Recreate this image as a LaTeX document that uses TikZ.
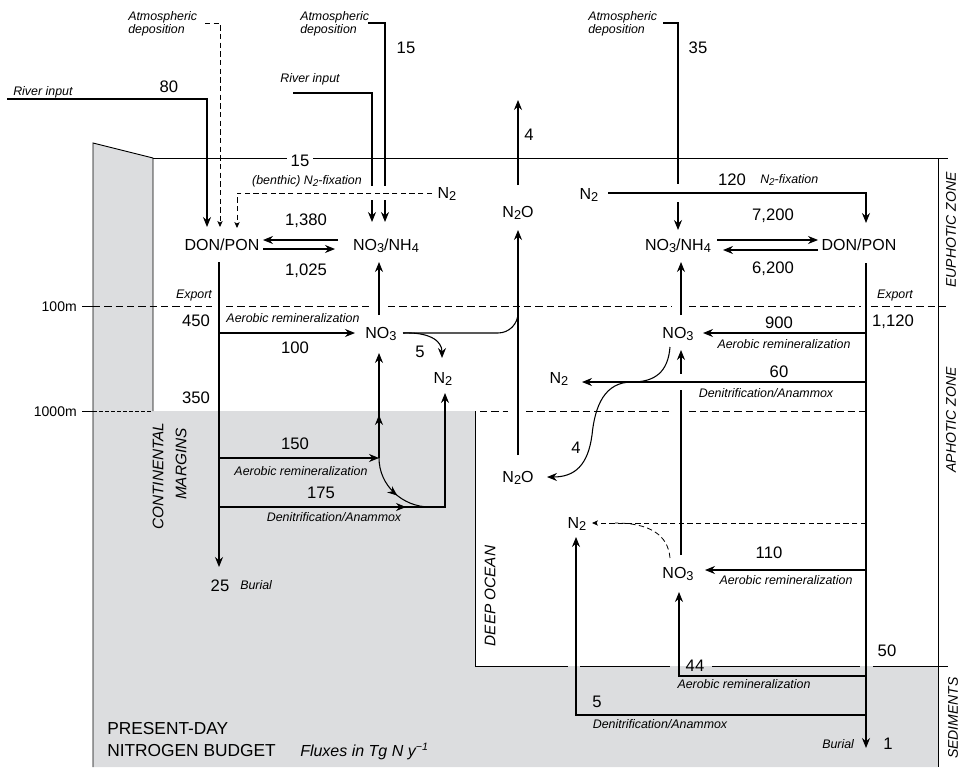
\documentclass[tikz,border=0pt]{standalone}
\usepackage{fontspec}
\setmainfont{Liberation Sans}
\usetikzlibrary{arrows.meta,decorations.markings}
\definecolor{sedgray}{RGB}{220,221,223}
\newcommand{\lsub}[1]{\raisebox{-0.32ex}{\scalebox{0.8}{#1}}}
\pgfdeclarelayer{back}
\pgfdeclarelayer{bg}
\pgfsetlayers{back,bg,main}
\begin{document}
\begin{tikzpicture}[x=0.75pt,y=-0.75pt,
  lnw/.style={line width=0.8pt},
  frm/.style={line width=0.7pt},
  arr/.style={line width=0.8pt,-{Stealth[length=7.5pt,width=6pt,inset=2.5pt]}},
  darr/.style={line width=0.6pt,dash pattern=on 4pt off 2.5pt,-{Stealth[length=4.5pt,width=4pt,inset=1.2pt]}},
  lev/.style={line width=0.6pt,dash pattern=on 5.5pt off 3pt},
  halo/.style={preaction={draw=white,line width=#1,solid,-}},
  spc/.style={font=\fontsize{12}{14}\selectfont,inner sep=0pt,anchor=base},
  num/.style={font=\fontsize{12.5}{14}\selectfont,inner sep=0pt,anchor=base},
  lab/.style={font=\fontsize{9.3}{11}\selectfont\itshape,inner sep=0pt,anchor=base},
  labw/.style={lab,anchor=base west},
  zonel/.style={font=\fontsize{10.5}{12}\selectfont\itshape,inner sep=0pt,rotate=90},
  regn/.style={font=\fontsize{11.5}{14}\selectfont\itshape,inner sep=0pt,rotate=90},
  lvl/.style={font=\fontsize{10.5}{12}\selectfont,inner sep=0pt,anchor=base east},
  ttl/.style={font=\fontsize{13}{15}\selectfont,inner sep=0pt,anchor=base west},
  midarr/.style={postaction={decorate},decoration={markings,mark=at position #1 with {\arrow{Stealth[length=7.5pt,width=6pt,inset=2.5pt]}}}}
]
\useasboundingbox (0,0) rectangle (963,767);

% ---------- species nodes ----------
\node[spc] (donL) at (222,250) {DON/PON};
\node[spc] (nhL)  at (386,250) {NO\lsub{3}/NH\lsub{4}};
\node[spc] (nhR)  at (678,250) {NO\lsub{3}/NH\lsub{4}};
\node[spc] (donR) at (859,250) {DON/PON};
\node[spc] (n2oU) at (518,217) {N\lsub{2}O};
\node[spc] (n2La) at (447,198) {N\lsub{2}};
\node[spc] (n2Ra) at (589,199) {N\lsub{2}};
\node[spc] (no3L) at (381,338) {NO\lsub{3}};
\node[spc] (n2Lb) at (443,383) {N\lsub{2}};
\node[spc] (no3R) at (678,338) {NO\lsub{3}};
\node[spc] (n2Rb) at (559,383) {N\lsub{2}};
\node[spc] (n2oD) at (518,482) {N\lsub{2}O};
\node[spc] (n2D)  at (577,528) {N\lsub{2}};
\node[spc] (no3D) at (678,578) {NO\lsub{3}};

% ---------- numbers ----------
\node[num] (v80) at (169,93) {80};
\node[num] (v15a) at (406,54) {15};
\node[num,fill=white,inner xsep=3pt,inner ysep=1pt] (v15b) at (300,166) {15};
\node[num] (v35) at (698,54) {35};
\node[num] (v4a) at (529,140) {4};
\node[num] (v120) at (732,185) {120};
\node[num] (v7200) at (773,220) {7,200};
\node[num] (v1380) at (306,225) {1,380};
\node[num] (v1025) at (306,275) {1,025};
\node[num] (v6200) at (773,273) {6,200};
\node[num] (v450) at (196,326) {450};
\node[num] (v100) at (295,353) {100};
\node[num] (v5a) at (420,357) {5};
\node[num] (v350) at (196,403) {350};
\node[num] (v150) at (295,449) {150};
\node[num] (v175) at (321,498) {175};
\node[num] (v900) at (779,328) {900};
\node[num] (v1120) at (893,326) {1,120};
\node[num] (v60) at (779,377) {60};
\node[num] (v4b) at (576,453) {4};
\node[num] (v110) at (769,558) {110};
\node[num] (v44) at (695,671) {44};
\node[num] (v5b) at (597,707) {5};
\node[num] (v50) at (887,656) {50};
\node[num] (v1) at (888,749) {1};
\node[num] (v25) at (220,591) {25};

% ---------- italic labels ----------
\node[labw] (tRivL) at (13,95) {River input};
\node[labw] (tAtmL1) at (128,21) {Atmospheric};
\node[labw] (tAtmL2) at (128,34) {deposition};
\node[labw] (tAtmM1) at (300,21) {Atmospheric};
\node[labw] (tAtmM2) at (300,34) {deposition};
\node[labw] (tAtmR1) at (588,21) {Atmospheric};
\node[labw] (tAtmR2) at (588,34) {deposition};
\node[lab] (tRivM) at (310,83) {River input};
\node[lab] (tBen) at (307,184) {(benthic) N\lsub{2}-fixation};
\node[labw] (tFixR) at (760,183) {N\lsub{2}-fixation};
\node[lab] (tExpL) at (194,298) {Export};
\node[lab] (tExpR) at (895,298) {Export};
\node[lab] (tAer1) at (293,322) {Aerobic remineralization};
\node[lab] (tAer2) at (301,475) {Aerobic remineralization};
\node[lab] (tDen1) at (334,521) {Denitrification/Anammox};
\node[labw] (tBurL) at (240,589) {Burial};
\node[lab] (tAer3) at (784,348) {Aerobic remineralization};
\node[lab] (tDen2) at (766,397) {Denitrification/Anammox};
\node[lab] (tAer4) at (786,584) {Aerobic remineralization};
\node[lab] (tAer5) at (744,688) {Aerobic remineralization};
\node[lab] (tDen3) at (660,728) {Denitrification/Anammox};
\node[labw] (tBurR) at (822,748) {Burial};

% ---------- zone / region labels ----------
\node[zonel] (zEu) at (951,230) {EUPHOTIC ZONE};
\node[zonel] (zAp) at (951,420) {APHOTIC ZONE};
\node[zonel] (zSe) at (953,718) {SEDIMENTS};
\node[regn] (rCM1) at (158,476) {CONTINENTAL};
\node[regn] (rCM2) at (181,464) {MARGINS};
\node[regn] (rDO) at (490,596) {DEEP OCEAN};
\node[lvl] (l100) at (77,311) {100m};
\node[lvl] (l1000) at (77,416) {1000m};
\node[ttl] (ti1) at (107,734) {PRESENT-DAY};
\node[ttl] (ti2) at (107,756) {NITROGEN BUDGET};
\node[font=\fontsize{12}{14}\selectfont\itshape,inner sep=0pt,anchor=base west] (ti3) at (300,756) {Fluxes in Tg N y\textsuperscript{−1}};

% ---------- coordinates ----------
\coordinate (rivL) at (7,99);      \coordinate (rivLt) at (207,227);
\coordinate (atmLs) at (205,23);   \coordinate (atmLt) at (220,227);
\coordinate (bnS) at (432,193);    \coordinate (bnT) at (237,228);
\coordinate (rivMs) at (293,93);   \coordinate (rivMt) at (372,222);
\coordinate (atmMs) at (368,23);   \coordinate (atmMt) at (385,222);
\coordinate (xl1s) at (338,240);   \coordinate (xl1t) at (263,240);
\coordinate (xl2s) at (263,249);   \coordinate (xl2t) at (335,249);
\coordinate (donLb) at (219,262);  \coordinate (burL) at (219,567);
\coordinate (r100) at (219,333);   \coordinate (no3Lw) at (355,333);
\coordinate (no3Le) at (403,333);  \coordinate (n2oJ) at (518,300);
\coordinate (no3Ln) at (379,315);  \coordinate (nhLs) at (379,262);
\coordinate (n2Lbt) at (442,358);
\coordinate (r150) at (219,458);   \coordinate (j150) at (379,458);
\coordinate (no3Ls) at (379,353);
\coordinate (r175) at (219,507);   \coordinate (n2Lbb) at (445,393);
\coordinate (c175) at (430,507);
\coordinate (n2oDn) at (518,455);  \coordinate (n2oUs) at (518,230);
\coordinate (n2oUn) at (518,185);  \coordinate (atmo) at (518,100);
\coordinate (atmRs) at (663,23);   \coordinate (atmRt) at (678,230);
\coordinate (n2Rae) at (608,193);  \coordinate (donRt) at (866,223);
\coordinate (xr1s) at (717,240);   \coordinate (xr1t) at (818,240);
\coordinate (xr2s) at (818,250);   \coordinate (xr2t) at (723,250);
\coordinate (no3Rn) at (681,315);  \coordinate (nhRs) at (681,262);
\coordinate (donRb) at (866,263);  \coordinate (burR) at (866,748);
\coordinate (r900) at (866,333);   \coordinate (no3Re) at (703,333);
\coordinate (r60) at (866,382);    \coordinate (n2Rbe) at (582,382);
\coordinate (no3Rs0) at (670,347); \coordinate (n2oDe) at (547,477);
\coordinate (no3Dn) at (681,555);  \coordinate (no3Rs) at (681,350);
\coordinate (r110) at (866,570);   \coordinate (no3De) at (705,570);
\coordinate (rdash) at (866,523);  \coordinate (n2De) at (592,523);
\coordinate (no3Dt) at (670,558);  \coordinate (dmerge) at (615,523);
\coordinate (r44) at (866,676);    \coordinate (no3Ds) at (679,592);
\coordinate (r5) at (866,715);     \coordinate (n2Ds) at (576,537);

% ---------- background ----------
\begin{pgfonlayer}{back}
\fill[sedgray] (93,143) -- (153,158) -- (153,411) -- (475,411) -- (475,666)
  -- (938,666) -- (938,767) -- (93,767) -- cycle;
\end{pgfonlayer}

\begin{pgfonlayer}{bg}
% frame
\draw[frm] (93,767) -- (93,143) -- (153,158) -- (153,411);
\draw[frm] (153,158) -- (948,158);
\draw[frm] (475,411) -- (475,666);
\draw[frm] (938,158) -- (938,767);
\draw[frm] (475,666) -- (568,666);
\draw[frm] (580,666) -- (670,666);
\draw[frm] (712,666) -- (860,666);
\draw[frm] (873,666) -- (948,666);
% depth levels
\draw[frm] (82,306) -- (93,306);
\draw[lev] (93,306) -- (212,306);
\draw[lev] (226,306) -- (370,306);
\draw[lev] (388,306) -- (672,306);
\draw[lev] (689,306) -- (861,306);
\draw[lev] (871,306) -- (948,306);
\draw[frm] (82,411) -- (93,411);
\draw[lev,dash pattern=on 3pt off 1.5pt] (93,411) -- (153,411);
\draw[lev] (480,411) -- (508,411);
\draw[lev] (526,411) -- (673,411);
\draw[lev] (689,411) -- (866,411);

% continental margin, upper
\draw[arr] (rivL) -| (rivLt);
\draw[darr] (atmLs) -| (atmLt);
\draw[arr] (rivMs) -| (rivMt);
\draw[arr] (atmMs) -| (atmMt);
\draw[darr,halo=10pt] (bnS) -| (bnT);
\draw[arr] (xl1s) -- (xl1t);
\draw[arr] (xl2s) -- (xl2t);
\draw[arr] (no3Ln) -- (nhLs);
\draw[arr] (donLb) -- (burL);
\draw[arr] (r100) -- (no3Lw);
\draw[lnw,rounded corners=15pt] (no3Le) -| (n2oJ);
\draw[arr] (no3Le) .. controls (428,332) and (442,340) .. (n2Lbt);
\draw[arr] (r150) -- (j150);
\draw[arr,midarr=0.41] (j150) -- (no3Ls);
\draw[lnw,midarr=0.55] (j150) .. controls (379,485) and (402,507) .. (c175);
\draw[arr,midarr=0.55] (r175) -| (n2Lbb);

% N2O
\draw[arr] (n2oDn) -- (n2oUs);
\draw[arr] (n2oUn) -- (atmo);

% open ocean, upper
\draw[arr] (atmRs) -| (atmRt);
\draw[arr,halo=14pt] (n2Rae) -| (donRt);
\draw[arr] (xr1s) -- (xr1t);
\draw[arr] (xr2s) -- (xr2t);
\draw[arr] (no3Rn) -- (nhRs);
\draw[arr] (no3Dn) -- (no3Rs);
\draw[arr,halo=12.5pt] (r60) -- (n2Rbe);
\draw[arr] (donRb) -- (burR);
\draw[arr] (r900) -- (no3Re);
\draw[arr] (no3Rs0) .. controls (668,372) and (655,382) .. (632,382)
  .. controls (605,382) and (595,405) .. (592,435)
  .. controls (588,465) and (575,477) .. (n2oDe);
\draw[arr] (r110) -- (no3De);
\draw[darr] (rdash) -- (n2De);
\draw[lnw,dash pattern=on 4pt off 2.5pt,line width=0.6pt] (no3Dt) .. controls (668,535) and (650,523) .. (dmerge);
\draw[arr] (r44) -| (no3Ds);
\draw[arr] (r5) -| (n2Ds);
\end{pgfonlayer}
\end{tikzpicture}
\end{document}
